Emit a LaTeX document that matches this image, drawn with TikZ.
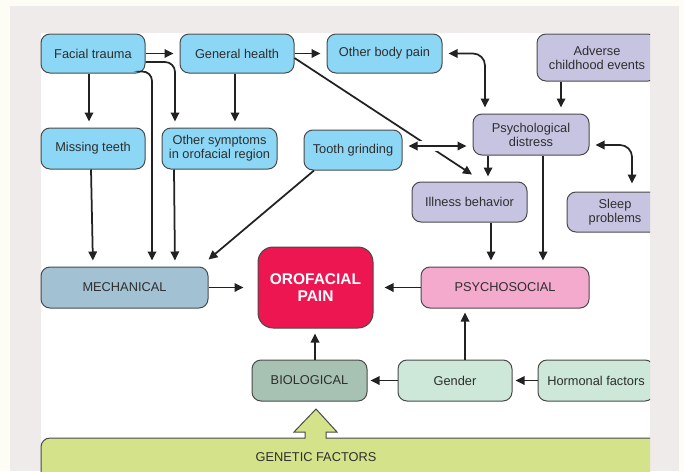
\documentclass[tikz,border=0pt]{standalone}
\usepackage{fontspec}
\setmainfont{Liberation Sans}
\usetikzlibrary{arrows.meta,calc}
\definecolor{cream}{HTML}{FEFDF5}
\definecolor{panel}{HTML}{EEEBEA}
\definecolor{lblue}{HTML}{8CD7F6}
\definecolor{lpurple}{HTML}{C7C4E2}
\definecolor{mechc}{HTML}{A2C2D3}
\definecolor{ofpc}{HTML}{ED1651}
\definecolor{psyc}{HTML}{F4AACD}
\definecolor{bioc}{HTML}{A7C2B2}
\definecolor{genc}{HTML}{CDE7D9}
\definecolor{genetc}{HTML}{D4E38A}
\definecolor{bord}{HTML}{4A4A4A}
\definecolor{txtc}{HTML}{2E2E2E}
\definecolor{linec}{HTML}{222222}
\tikzset{
  basebox/.style={draw=bord, line width=1pt, rounded corners=9pt, align=center,
    text=txtc, font=\fontsize{12.8}{14}\selectfont, inner sep=0pt},
  bluebox/.style={basebox, fill=lblue},
  purplebox/.style={basebox, fill=lpurple},
  arr/.style={draw=linec, line width=1.75pt, -{Triangle[length=9pt,width=8.5pt]}, shorten >=6pt},
  darr/.style={draw=linec, line width=1.75pt, {Triangle[length=9pt,width=8.5pt]}-{Triangle[length=9pt,width=8.5pt]}, shorten >=6pt, shorten <=6pt},
  plain/.style={draw=linec, line width=1.75pt}
}
\begin{document}
\begin{tikzpicture}[x=1pt,y=-1pt]
\useasboundingbox (0,0) rectangle (684,471);
\fill[cream] (0,0) rectangle (684,471);
\fill[panel] (10,6) rectangle (679,471);
\fill[white] (41,33) rectangle (650,471);
\begin{scope}
\clip (0,0) rectangle (650,471);
\node[bluebox, minimum width=104pt, minimum height=39pt] (ft) at (93,53.5) {Facial trauma};
\node[bluebox, minimum width=114pt, minimum height=39pt] (gh) at (237,53.5) {General health};
\node[bluebox, minimum width=115pt, minimum height=39pt] (obp) at (384.5,53.5) {Other body pain};
\node[purplebox, minimum width=120pt, minimum height=47pt] (ace) at (597,57.5) {Adverse\\childhood events};
\node[purplebox, minimum width=116pt, minimum height=41pt] (pd) at (531,134.5) {Psychological\\distress};
\node[purplebox, minimum width=96pt, minimum height=40pt] (sp) at (615,212) {Sleep\\problems};
\node[purplebox, minimum width=115pt, minimum height=40pt] (ib) at (469.5,202) {Illness behavior};
\node[bluebox, minimum width=98pt, minimum height=40pt] (tg) at (353,150) {Tooth grinding};
\node[bluebox, minimum width=104pt, minimum height=41pt] (mt) at (93,148.5) {Missing teeth};
\node[bluebox, minimum width=115pt, minimum height=41pt] (os) at (219.5,148.5) {Other symptoms\\in orofacial region};
\node[basebox, fill=mechc, minimum width=167pt, minimum height=41pt] (mech) at (124.5,287.5) {MECHANICAL};
\node[basebox, fill=ofpc, rounded corners=15pt, text=white, font=\bfseries\fontsize{15.5}{17}\selectfont, minimum width=115pt, minimum height=81pt] (ofp) at (315.5,287.5) {OROFACIAL\\PAIN};
\node[basebox, fill=psyc, minimum width=168pt, minimum height=41pt] (psy) at (505,287.5) {PSYCHOSOCIAL};
\node[basebox, fill=bioc, minimum width=115pt, minimum height=41pt] (bio) at (309.5,380.5) {BIOLOGICAL};
\node[basebox, fill=genc, minimum width=114pt, minimum height=41pt] (gen) at (455,380.5) {Gender};
\node[basebox, fill=genc, minimum width=116pt, minimum height=41pt] (hor) at (596,380.5) {Hormonal factors};
\node[basebox, fill=genetc, minimum width=619pt, minimum height=42pt] (genet) at (350.5,459) {};
\node[text=txtc, font=\fontsize{12.8}{14}\selectfont, inner sep=0pt] (genettext) at (316,457) {GENETIC FACTORS};
\end{scope}
% big hollow arrow from genetic factors to biological
\fill[genetc] (305,439) -- (305,432) -- (294,432) -- (316,409) -- (337,432) -- (326,432) -- (326,439) -- cycle;
\draw[bord, line width=1pt, line join=miter] (305,438.5) -- (305,432) -- (294,432) -- (316,409) -- (337,432) -- (326,432) -- (326,438.5);
% connectors
\draw[arr] (ft.east) -- (gh.west);
\draw[arr, rounded corners=10pt] (ft.east |- 0,62) -- (175,62) -- (175,0 |- os.north);
\draw[arr, rounded corners=10pt] ($(ft.south east)+(-3,-2)$) -- (152,71) -- (152,0 |- mech.north);
\draw[arr] (ft.south -| 89,0) -- (89,0 |- mt.north);
\draw[arr] (gh.south -| 235,0) -- (235,0 |- os.north);
\draw[arr] (gh.east) -- (obp.west);
\draw[plain, -{Triangle[length=9pt,width=8.5pt]}] ($(gh.east)+(0,4.5)$) -- ($(ib.north)+(2.5,-7)$);
\draw[darr, rounded corners=12pt] (obp.east) -- (485,53.5) -- (485,0 |- pd.north);
\draw[arr] (ace.south -| 561,0) -- (561,0 |- pd.north);
\draw[darr, preaction={draw=white, line width=10pt, arrows=-}] (tg.east |- 0,146) -- (pd.west |- 0,146);
\draw[arr, shorten >=5pt] (pd.south -| 488,0) -- (488,0 |- ib.north);
\draw[arr] (pd.south -| 543,0) -- (543,0 |- psy.north);
\draw[arr] (ib.south -| 491,0) -- (491,0 |- psy.north);
\draw[darr, rounded corners=12pt, shorten >=8pt] (pd.east |- 0,145) -- (632,145) -- (632,0 |- sp.north);
\draw[arr] (mt.south -| 91,0) -- (93,0 |- mech.north);
\draw[arr] (os.south -| 174,0) -- (175,0 |- mech.north);
\draw[plain, -{Triangle[length=9pt,width=8.5pt]}] (tg.south -| 314,0) -- ($(mech.north east)+(0,-7)$);
\draw[arr, shorten >=14pt] (mech.east) -- (ofp.west);
\draw[arr, shorten >=11pt] (psy.west) -- (ofp.east);
\draw[arr, shorten >=5pt] (bio.north -| 315,0) -- (315,0 |- ofp.south);
\draw[arr, shorten >=3pt] (gen.west) -- (bio.east);
\draw[arr, shorten >=4pt] (gen.north -| 465,0) -- (465,0 |- psy.south);
\draw[arr, shorten >=3pt] (hor.west) -- (gen.east);
\end{tikzpicture}
\end{document}
